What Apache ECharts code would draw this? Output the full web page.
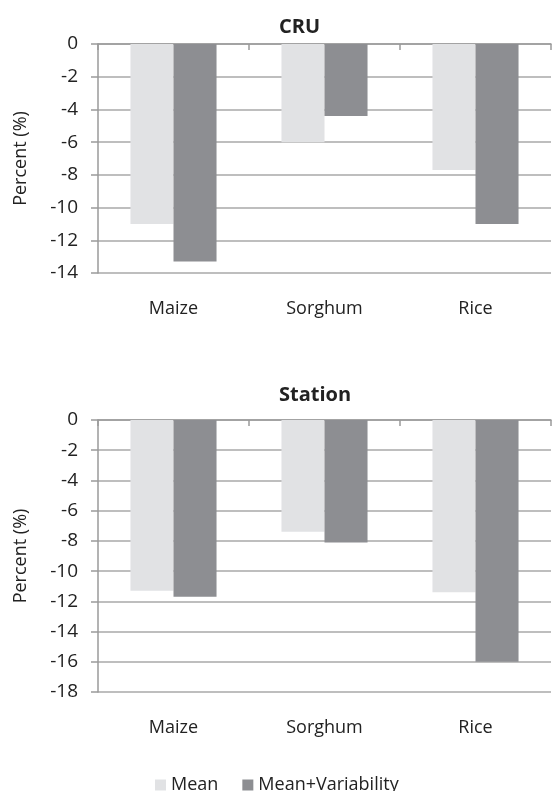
<!DOCTYPE html>
<html>
<head>
<meta charset="utf-8">
<script src="https://cdn.jsdelivr.net/npm/echarts@6/dist/echarts.min.js"></script>
<style>
html,body{margin:0;padding:0;background:#fff;}
#chart{width:553px;height:791px;}
</style>
</head>
<body>
<div id="chart"></div>
<script>
const categories = ['Maize', 'Sorghum', 'Rice'];
const seriesNames = ['Mean', 'Mean+Variability'];
const cruMean = [-11.0, -6.0, -7.7];
const cruMeanVar = [-13.3, -4.4, -11.0];
const stationMean = [-11.3, -7.4, -11.4];
const stationMeanVar = [-11.7, -8.1, -16.0];
const titles = ['CRU', 'Station'];
const yName = 'Percent (%)';

const FONT = '"Open Sans", sans-serif';
const TXT = '#222';
const GRIDC = '#a8a8a8';
const AXISC = '#9a9a9a';
const C_LIGHT = '#e1e2e4';
const C_DARK = '#8d8e92';

function yAxis(gi, min) {
  return {
    type: 'value', gridIndex: gi, min: min, max: 0, interval: 2,
    name: yName, nameLocation: 'middle', nameGap: 68,
    nameTextStyle: {fontFamily: FONT, fontSize: 18, color: TXT},
    axisLine: {show: true, lineStyle: {color: AXISC, width: 1.5}},
    axisTick: {show: true, length: 7, lineStyle: {color: AXISC, width: 1.5}},
    axisLabel: {fontFamily: FONT, fontSize: 19, color: TXT, margin: 20},
    splitLine: {show: true, lineStyle: {color: GRIDC, width: 1.5}}
  };
}
function xAxisBottom(gi) {
  return {
    type: 'category', gridIndex: gi, data: categories, position: 'bottom',
    axisLine: {show: false, onZero: false}, axisTick: {show: false},
    axisLabel: {fontFamily: FONT, fontSize: 18, color: TXT, margin: 27}
  };
}
function xAxisTop(gi) {
  return {
    type: 'category', gridIndex: gi, data: categories, position: 'top',
    axisLine: {show: true, onZero: false, lineStyle: {color: AXISC, width: 1.5}},
    axisTick: {show: true, inside: true, length: 6, lineStyle: {color: AXISC, width: 1.5}},
    axisLabel: {show: false}
  };
}
function bar(name, data, xi, yi, color) {
  return {
    name: name, type: 'bar', xAxisIndex: xi, yAxisIndex: yi, data: data,
    barGap: '0%', barCategoryGap: '43%',
    itemStyle: {color: color}
  };
}

const chart = echarts.init(document.getElementById('chart'), null, {renderer: 'canvas'});
chart.setOption({
  animation: false,
  backgroundColor: '#fff',
  title: [
    {text: titles[0], left: 274, top: 12, textStyle: {fontFamily: FONT, fontSize: 20, fontWeight: 'bold', color: TXT}},
    {text: titles[1], left: 274, top: 380, textStyle: {fontFamily: FONT, fontSize: 20, fontWeight: 'bold', color: TXT}}
  ],
  legend: {
    data: seriesNames, left: 150, top: 771, itemWidth: 11, itemHeight: 11, itemGap: 24,
    icon: 'rect',
    textStyle: {fontFamily: FONT, fontSize: 18, color: TXT}
  },
  grid: [
    {left: 98, right: 2, top: 44, height: 229},
    {left: 98, right: 2, top: 420, height: 272}
  ],
  xAxis: [xAxisBottom(0), xAxisTop(0), xAxisBottom(1), xAxisTop(1)],
  yAxis: [yAxis(0, -14), yAxis(1, -18)],
  series: [
    bar(seriesNames[0], cruMean, 0, 0, C_LIGHT),
    bar(seriesNames[1], cruMeanVar, 0, 0, C_DARK),
    bar(seriesNames[0], stationMean, 2, 1, C_LIGHT),
    bar(seriesNames[1], stationMeanVar, 2, 1, C_DARK)
  ]
});
</script>
</body>
</html>
